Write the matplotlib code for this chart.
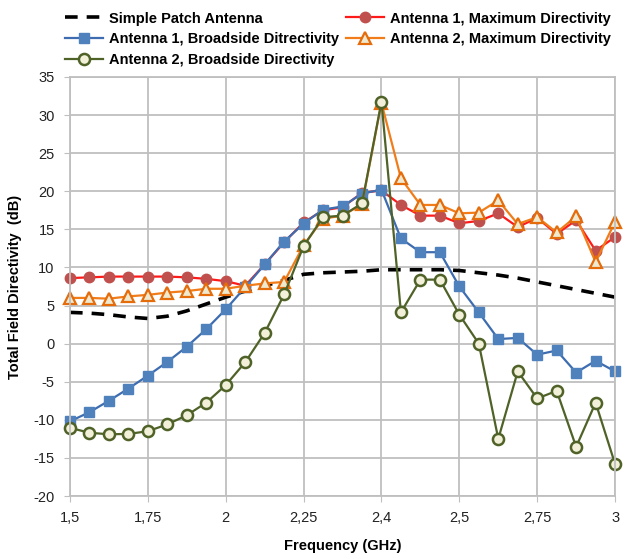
import matplotlib
matplotlib.use("Agg")
import matplotlib.pyplot as plt

plt.rcParams['font.family'] = ['Liberation Sans Narrow', 'Liberation Sans', 'DejaVu Sans']
plt.rcParams['axes.unicode_minus'] = False

# category labels (Excel style category axis, one label every 4 points)
tick_pos = [0, 4, 8, 12, 16, 20, 24, 28]
tick_labels = ['1,5', '1,75', '2', '2,25', '2,4', '2,5', '2,75', '3']
idx = list(range(29))

simple_patch = [4.1, 4.0, 3.8, 3.5, 3.3, 3.6, 4.3, 5.2, 6.1, 6.9, 7.6, 8.3, 9.1, 9.3,
                9.4, 9.5, 9.7, 9.7, 9.7, 9.7, 9.6, 9.3, 9.0, 8.6, 8.1, 7.6, 7.1, 6.6, 6.1]
ant1_max = [8.6, 8.7, 8.8, 8.8, 8.8, 8.8, 8.7, 8.5, 8.2, 7.6, 10.4, 13.3, 15.9, 17.5,
            17.9, 19.8, 20.1, 18.2, 16.8, 16.8, 15.8, 16.1, 17.1, 15.3, 16.5, 14.4, 16.2, 12.2, 14.0]
ant1_broad = [-10.2, -9.0, -7.5, -5.9, -4.2, -2.4, -0.4, 1.9, 4.5, 7.4, 10.4, 13.4, 15.75, 17.6,
              18.0, 19.7, 20.2, 13.8, 12.0, 12.0, 7.5, 4.1, 0.6, 0.75, -1.45, -0.9, -3.8, -2.25, -3.65]
ant2_max = [6.0, 6.0, 5.9, 6.2, 6.4, 6.7, 6.9, 7.2, 7.2, 7.6, 7.9, 8.1, 12.9, 16.4,
            16.8, 18.3, 31.6, 21.7, 18.2, 18.2, 17.1, 17.2, 18.8, 15.7, 16.6, 14.6, 16.7, 10.7, 16.0]
ant2_broad = [-11.05, -11.7, -11.9, -11.85, -11.5, -10.6, -9.4, -7.75, -5.45, -2.45, 1.4, 6.45, 12.8, 16.6,
              16.8, 18.4, 31.75, 4.1, 8.4, 8.4, 3.8, 0.0, -12.5, -3.65, -7.2, -6.2, -13.55, -7.75, -15.8]

fig = plt.figure(figsize=(6.27, 5.59), dpi=100)
ax = fig.add_axes([0.1116, 0.1127, 0.8694, 0.7496])

l0, = ax.plot(idx, simple_patch, color='black', lw=2.6, ls=(0, (3.5, 2.5)),
              label='Simple Patch Antenna')
l1, = ax.plot(idx, ant1_max, color='#FF1A1A', lw=1.6, marker='o', ms=7.5,
              mfc='#C0504D', mec='#C0504D', label='Antenna 1, Maximum Directivity', clip_on=False)
l2, = ax.plot(idx, ant1_broad, color='#3D6DB0', lw=1.6, marker='s', ms=6.5,
              mfc='#4F81BD', mec='#4F81BD', label='Antenna 1, Broadside Ditrectivity', clip_on=False)
l3, = ax.plot(idx, ant2_max, color='#F07D1A', lw=1.6, marker='^', ms=9,
              mfc='#EEE9CF', mec='#E46C0A', mew=1.6, label='Antenna 2, Maximum Directivity', clip_on=False)
l4, = ax.plot(idx, ant2_broad, color='#4F6228', lw=1.6, marker='o', ms=8,
              mfc='#F2F0D8', mec='#4F6228', mew=1.8, label='Antenna 2, Broadside Directivity', clip_on=False)

ax.set_xlim(0, 28)
ax.set_ylim(-20, 35)
ax.set_yticks(range(-20, 36, 5))
ax.set_xticks(tick_pos)
ax.set_xticklabels(tick_labels)
ax.grid(True, color='#BFBFBF', lw=1.3)
ax.set_axisbelow(True)
for s in ax.spines.values():
    s.set_color('#BFBFBF')
    s.set_linewidth(1.3)
ax.tick_params(length=4, color='#BFBFBF', labelsize=10.5, pad=7, labelcolor='#222222')

ax.set_xlabel('Frequency (GHz)', fontsize=10.5, fontweight='bold', labelpad=10)
ax.set_ylabel('Total Field Directivity  (dB)', fontsize=10.5, fontweight='bold', labelpad=8)

fig.legend(handles=[l0, l2, l4, l1, l3], loc='upper left', bbox_to_anchor=(0.09, 0.995),
           ncol=2, frameon=False, prop={'weight': 'bold', 'size': 10.5},
           handlelength=2.6, handletextpad=0.4, columnspacing=0.5, labelspacing=0.45,
           borderaxespad=0.2)

fig.savefig('out.png', dpi=100)
